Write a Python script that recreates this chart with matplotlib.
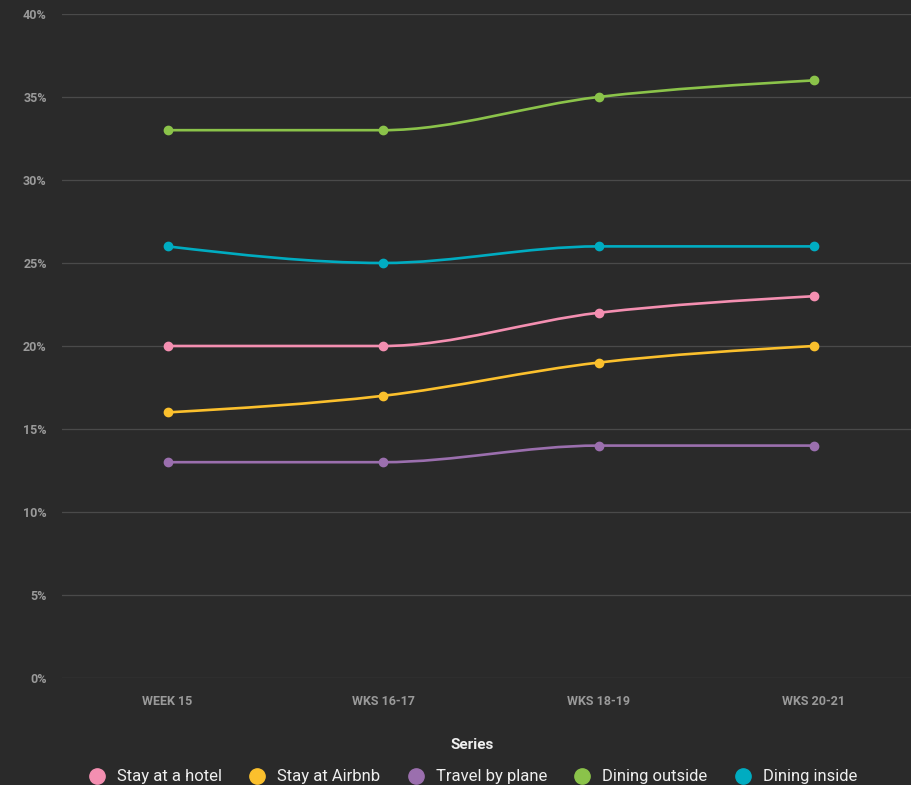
import numpy as np
import matplotlib
matplotlib.use("Agg")
import matplotlib.pyplot as plt
from matplotlib.path import Path
from matplotlib.patches import PathPatch
from matplotlib.lines import Line2D

weeks = ["WEEK 15", "WKS 16-17", "WKS 18-19", "WKS 20-21"]
hotel = [20, 20, 22, 23]
airbnb = [16, 17, 19, 20]
plane = [13, 13, 14, 14]
dining_out = [33, 33, 35, 36]
dining_in = [26, 25, 26, 26]

series = [
    ("Stay at a hotel", hotel, "#f48fb1"),
    ("Stay at Airbnb", airbnb, "#fbc02d"),
    ("Travel by plane", plane, "#9b6fae"),
    ("Dining outside", dining_out, "#8bc34a"),
    ("Dining inside", dining_in, "#00acc1"),
]

bg = "#2a2a2a"


def monotone_path(x, y):
    # d3 curveMonotoneX style bezier path
    x = np.asarray(x, float)
    y = np.asarray(y, float)
    n = len(x)
    h = np.diff(x)
    s = np.diff(y) / h
    t = np.zeros(n)
    for i in range(1, n - 1):
        p = (s[i - 1] * h[i] + s[i] * h[i - 1]) / (h[i - 1] + h[i])
        t[i] = (np.sign(s[i - 1]) + np.sign(s[i])) * min(abs(s[i - 1]), abs(s[i]), 0.5 * abs(p))
    t[0] = (3 * s[0] - t[1]) / 2
    t[-1] = (3 * s[-1] - t[-2]) / 2
    verts = [(x[0], y[0])]
    codes = [Path.MOVETO]
    for i in range(n - 1):
        dx = (x[i + 1] - x[i]) / 3
        verts += [(x[i] + dx, y[i] + dx * t[i]),
                  (x[i + 1] - dx, y[i + 1] - dx * t[i + 1]),
                  (x[i + 1], y[i + 1])]
        codes += [Path.CURVE4] * 3
    return Path(verts, codes)


fig = plt.figure(figsize=(9.12, 7.85), dpi=100, facecolor=bg)
ax = fig.add_axes([0.068, 0.1363, 0.932, 0.8459], facecolor=bg)

xs = np.arange(len(weeks))
for name, vals, col in series:
    ax.add_patch(PathPatch(monotone_path(xs, vals), facecolor="none",
                           edgecolor=col, lw=1.9, zorder=3))
    ax.plot(xs, vals, "o", color=col, ms=6, zorder=4)

ax.set_xlim(-0.49, 3.455)
ax.set_ylim(0, 40)
ax.set_yticks(range(0, 41, 5))
ax.set_yticklabels([f"{v}%" for v in range(0, 41, 5)])
ax.set_xticks(xs)
ax.set_xticklabels(weeks)
ax.grid(axis="y", color="#4a4a4a", lw=0.9)
ax.set_axisbelow(True)
for sp in ax.spines.values():
    sp.set_visible(False)
ax.tick_params(length=0, colors="#9a9a9a", labelsize=9)
ax.tick_params(axis="x", pad=12)
ax.tick_params(axis="y", pad=11)
for lab in ax.get_xticklabels() + ax.get_yticklabels():
    lab.set_fontweight("bold")
    lab.set_family("Roboto")

fig.text(0.5175, 1 - 745 / 785, "Series", ha="center", va="center",
         color="#eeeeee", family="Roboto", fontsize=11, fontweight="bold")

handles = [Line2D([], [], marker="o", ls="none", color=c, ms=11) for _, _, c in series]
leg = fig.legend(handles, [n for n, _, _ in series], loc="center",
                 bbox_to_anchor=(0.514, 1 - 777 / 785), ncol=5, frameon=False,
                 handletextpad=0.2, columnspacing=1.12, borderpad=0,
                 prop={"family": "Roboto", "size": 12})
for txt in leg.get_texts():
    txt.set_color("#eeeeee")

fig.savefig("out.png", dpi=100, facecolor=bg)
